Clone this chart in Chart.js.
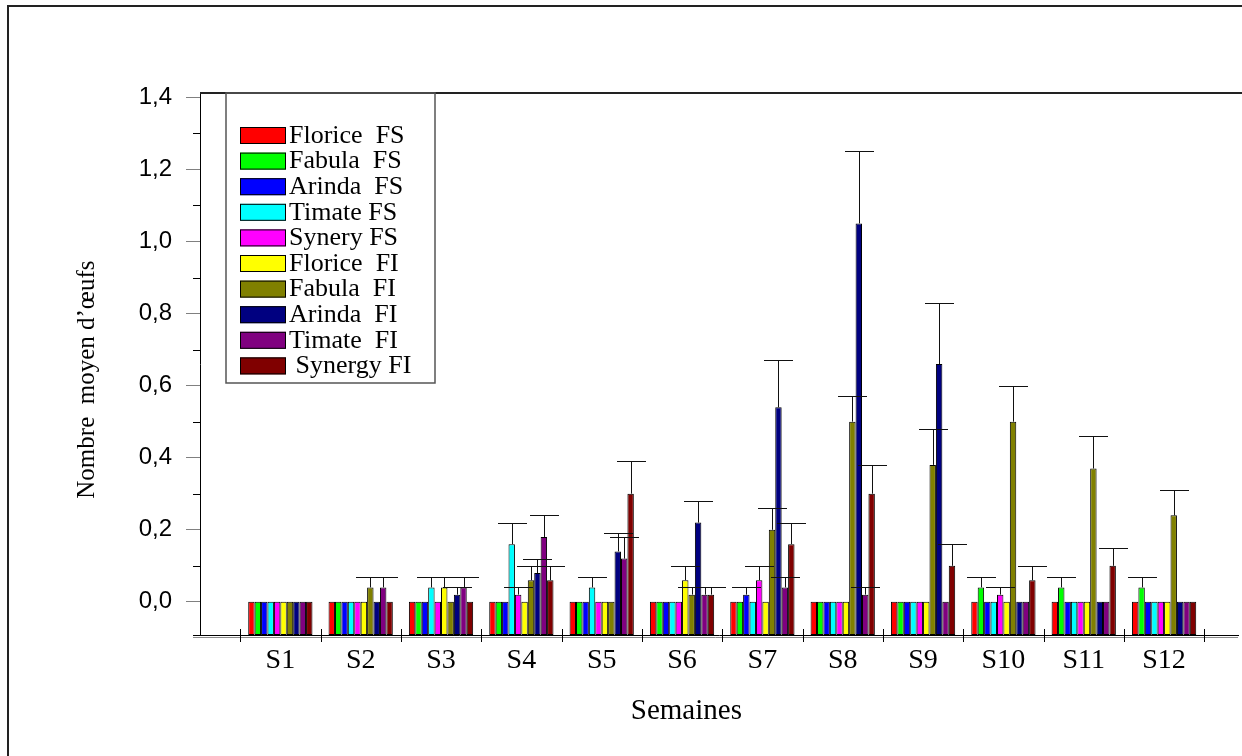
<!DOCTYPE html>
<html lang="fr">
<head>
<meta charset="utf-8">
<title>Nombre moyen d'œufs par semaine</title>
<script src="https://cdn.jsdelivr.net/npm/chart.js@4.4.1/dist/chart.umd.min.js"></script>
<style>
  html, body { margin: 0; padding: 0; background: #fff; }
  #wrap { width: 1242px; height: 756px; position: relative; }
</style>
</head>
<body>
<div id="wrap"><canvas id="eggsChart"></canvas></div>
<script>
//Weeks (x categories) and tick values
const weeks = ["S1", "S2", "S3", "S4", "S5", "S6", "S7", "S8", "S9", "S10", "S11", "S12"];
const yTicks = [0, 0.2, 0.4, 0.6, 0.8, 1.0, 1.2, 1.4];
const yMinorTicks = [0.1, 0.3, 0.5, 0.7, 0.9, 1.1, 1.3];

//Series names (as in the legend) and colours
const seriesNames = ["Florice  FS", "Fabula  FS", "Arinda  FS", "Timate FS", "Synery FS",
  "Florice  FI", "Fabula  FI", "Arinda  FI", "Timate  FI", " Synergy FI"];
const seriesColors = ["#ff0000", "#00ff00", "#0000ff", "#00ffff", "#ff00ff",
  "#ffff00", "#808000", "#000080", "#800080", "#800000"];

//Mean number of eggs, one value per week
const floriceFS = [0, 0, 0, 0, 0, 0, 0, 0, 0, 0, 0, 0];
const fabulaFS  = [0, 0, 0, 0, 0, 0, 0, 0, 0, 0.04, 0.04, 0.04];
const arindaFS  = [0, 0, 0, 0, 0, 0, 0.02, 0, 0, 0, 0, 0];
const timateFS  = [0, 0, 0.04, 0.16, 0.04, 0, 0, 0, 0, 0, 0, 0];
const syneryFS  = [0, 0, 0, 0.02, 0, 0, 0.06, 0, 0, 0.02, 0, 0];
const floriceFI = [0, 0, 0.04, 0, 0, 0.06, 0, 0, 0, 0, 0, 0];
const fabulaFI  = [0, 0.04, 0, 0.06, 0, 0.02, 0.20, 0.50, 0.38, 0.50, 0.37, 0.24];
const arindaFI  = [0, 0, 0.02, 0.08, 0.14, 0.22, 0.54, 1.05, 0.66, 0, 0, 0];
const timateFI  = [0, 0.04, 0.04, 0.18, 0.12, 0.02, 0.04, 0.02, 0, 0, 0, 0];
const synergyFI = [0, 0, 0, 0.06, 0.30, 0.02, 0.16, 0.30, 0.10, 0.06, 0.10, 0];

//Error bar sizes, one value per week
const floriceFSErr = [0, 0, 0, 0, 0, 0, 0, 0, 0, 0, 0, 0];
const fabulaFSErr  = [0, 0, 0, 0, 0, 0, 0, 0, 0, 0.03, 0.03, 0.03];
const arindaFSErr  = [0, 0, 0, 0, 0, 0, 0.02, 0, 0, 0, 0, 0];
const timateFSErr  = [0, 0, 0.03, 0.06, 0.03, 0, 0, 0, 0, 0, 0, 0];
const syneryFSErr  = [0, 0, 0, 0.02, 0, 0, 0.04, 0, 0, 0.02, 0, 0];
const floriceFIErr = [0, 0, 0.03, 0, 0, 0.04, 0, 0, 0, 0, 0, 0];
const fabulaFIErr  = [0, 0.03, 0, 0.04, 0, 0.02, 0.06, 0.07, 0.10, 0.10, 0.09, 0.07];
const arindaFIErr  = [0, 0, 0.02, 0.04, 0.05, 0.06, 0.13, 0.20, 0.17, 0, 0, 0];
const timateFIErr  = [0, 0.03, 0.03, 0.06, 0.06, 0.02, 0.03, 0.02, 0, 0, 0, 0];
const synergyFIErr = [0, 0, 0, 0.04, 0.09, 0.02, 0.06, 0.08, 0.06, 0.04, 0.05, 0];

const seriesValues = [floriceFS, fabulaFS, arindaFS, timateFS, syneryFS,
  floriceFI, fabulaFI, arindaFI, timateFI, synergyFI];
const seriesErrors = [floriceFSErr, fabulaFSErr, arindaFSErr, timateFSErr, syneryFSErr,
  floriceFIErr, fabulaFIErr, arindaFIErr, timateFIErr, synergyFIErr];

const Y_MIN = -0.092;
const Y_MAX = 1.412;

//Frame, extra axis lines, week dividers and minor ticks
const decorations = {
  id: "decorations",
  beforeDraw(chart) {
    const {ctx} = chart;
    ctx.save();
    ctx.fillStyle = "#fff";
    ctx.fillRect(0, 0, chart.width, chart.height);
    ctx.strokeStyle = "#222";
    ctx.lineWidth = 2;
    ctx.strokeRect(8, 6, chart.width + 40, chart.height + 40);
    ctx.restore();
  },
  afterDraw(chart) {
    const {ctx, chartArea: a, scales: {x, y}} = chart;
    ctx.save();
    // top line of the plot
    ctx.strokeStyle = "#222";
    ctx.lineWidth = 2;
    ctx.beginPath();
    ctx.moveTo(a.left, a.top);
    ctx.lineTo(chart.width, a.top);
    ctx.stroke();
    // double x axis line
    ctx.lineWidth = 1;
    ctx.strokeStyle = "#000";
    ctx.beginPath();
    ctx.moveTo(a.left - 7, a.bottom + 0.5);
    ctx.lineTo(a.left, a.bottom + 0.5);
    ctx.stroke();
    ctx.strokeStyle = "#8a8a8a";
    ctx.beginPath();
    ctx.moveTo(a.left - 7, a.bottom + 2.5);
    ctx.lineTo(a.right, a.bottom + 2.5);
    ctx.stroke();
    // dividers between weeks
    ctx.strokeStyle = "#000";
    for (let i = 0; i <= weeks.length; i++) {
      const px = Math.round(x.getPixelForValue(i + 0.5)) + 0.5;
      ctx.beginPath();
      ctx.moveTo(px, a.bottom - 6);
      ctx.lineTo(px, a.bottom + 7);
      ctx.stroke();
    }
    // minor y ticks
    yMinorTicks.forEach((v) => {
      const py = Math.round(y.getPixelForValue(v)) + 0.5;
      ctx.beginPath();
      ctx.moveTo(a.left - 7, py);
      ctx.lineTo(a.left, py);
      ctx.stroke();
    });
    ctx.restore();
  },
};

//Error bars on top of each bar
const errorBars = {
  id: "errorBars",
  afterDatasetsDraw(chart) {
    const {ctx, scales: {y}} = chart;
    ctx.save();
    ctx.strokeStyle = "#111";
    ctx.lineWidth = 1;
    chart.data.datasets.forEach((ds, i) => {
      const meta = chart.getDatasetMeta(i);
      ds.errors.forEach((err, j) => {
        if (!err) return;
        const bar = meta.data[j];
        const cx = Math.round(bar.x) + 0.5;
        const capY = Math.round(y.getPixelForValue(ds.data[j].y + err)) + 0.5;
        ctx.beginPath();
        ctx.moveTo(cx, bar.y);
        ctx.lineTo(cx, capY);
        ctx.moveTo(cx - 14.5, capY);
        ctx.lineTo(cx + 14.5, capY);
        ctx.stroke();
      });
    });
    ctx.restore();
  },
};

//Boxed legend in the upper left corner of the plot
const boxLegend = {
  id: "boxLegend",
  afterDraw(chart) {
    const {ctx} = chart;
    ctx.save();
    ctx.strokeStyle = "#555";
    ctx.lineWidth = 1.5;
    ctx.strokeRect(226, 93, 209, 290);
    ctx.font = "26px 'Liberation Serif', 'Times New Roman', serif";
    ctx.textBaseline = "middle";
    chart.data.datasets.forEach((ds, i) => {
      const top = 127 + i * 25.6;
      ctx.fillStyle = ds.backgroundColor;
      ctx.fillRect(240, top, 46, 17);
      ctx.strokeStyle = "#000";
      ctx.lineWidth = 1;
      ctx.strokeRect(240.5, top + 0.5, 45, 16);
      ctx.fillStyle = "#000";
      ctx.fillText(ds.label, 289, top + 9);
    });
    ctx.restore();
  },
};

const datasets = seriesNames.map((name, i) => ({
  label: name,
  data: seriesValues[i].map((v, j) => ({x: j + 1, y: v})),
  errors: seriesErrors[i],
  backgroundColor: seriesColors[i],
  borderColor: "#000",
  borderWidth: 1,
  borderSkipped: false,
  base: Y_MIN,
  categoryPercentage: 0.8,
  barPercentage: 1.0,
}));

new Chart(document.getElementById("eggsChart"), {
  type: "bar",
  data: {datasets},
  plugins: [decorations, errorBars, boxLegend],
  options: {
    responsive: true,
    maintainAspectRatio: false,
    devicePixelRatio: 1,
    animation: false,
    layout: {padding: {left: 0, top: 93, right: 4, bottom: 0}},
    plugins: {
      legend: {display: false},
      tooltip: {enabled: false},
    },
    scales: {
      x: {
        type: "linear",
        min: 0,
        max: 12.92,
        offset: false,
        afterBuildTicks: (axis) => { axis.ticks = weeks.map((w, i) => ({value: i + 1})); },
        afterFit: (s) => { s.height = 121; s.paddingLeft = 0; s.paddingRight = 0; },
        grid: {display: false, drawTicks: false, offset: false},
        border: {display: true, color: "#000", width: 1},
        ticks: {
          padding: 9,
          maxRotation: 0,
          autoSkip: false,
          color: "#000",
          font: {family: "'Liberation Serif', 'Times New Roman', serif", size: 28},
          callback: (v) => weeks[Math.round(v) - 1] ?? "",
        },
        title: {
          display: true,
          // trailing spaces move the centred title a little to the left
          text: "Semaines" + "\u00a0".repeat(9),
          color: "#000",
          font: {family: "'Liberation Serif', 'Times New Roman', serif", size: 29},
          padding: {top: 0, bottom: 27},
        },
      },
      y: {
        min: Y_MIN,
        max: Y_MAX,
        afterBuildTicks: (axis) => { axis.ticks = yTicks.map((v) => ({value: v})); },
        afterFit: (s) => { s.width = 200; s.paddingTop = 0; s.paddingBottom = 0; },
        grid: {drawOnChartArea: false, drawTicks: true, tickLength: 14, color: "#808080"},
        border: {display: true, color: "#000", width: 1},
        ticks: {
          padding: 14,
          color: "#000",
          font: {family: "'Liberation Sans', Arial, sans-serif", size: 24},
          callback: (v) => v.toFixed(1).replace(".", ","),
        },
        title: {
          display: true,
          text: "Nombre  moyen d\u2019\u0153ufs" + "\u00a0".repeat(5),
          color: "#000",
          font: {family: "'Liberation Serif', 'Times New Roman', serif", size: 25},
          padding: {top: 72, bottom: 0},
        },
      },
    },
  },
});
</script>
</body>
</html>
